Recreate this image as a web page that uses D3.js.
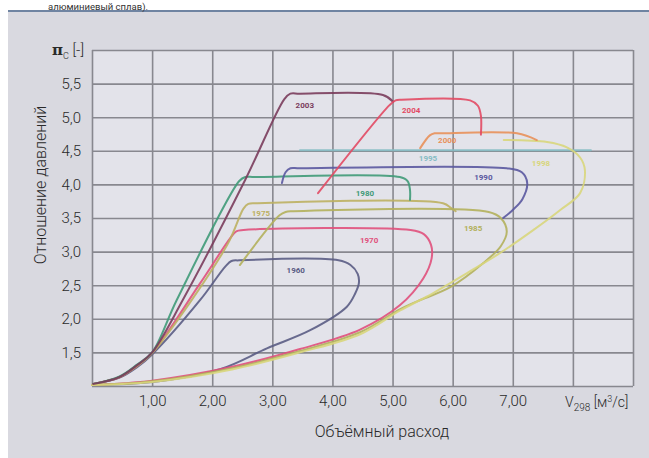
<!DOCTYPE html>
<html><head><meta charset="utf-8">
<script src="https://cdn.jsdelivr.net/npm/d3@7/dist/d3.min.js"></script>
<style>
html,body{margin:0;padding:0;background:#fff;}
text{font-family:Roboto,"Liberation Sans",sans-serif;}
</style></head>
<body>
<svg id="c" width="649" height="458"></svg>
<script>
// ---- data (x: volume flow m3/s, y: pressure ratio) ----
const xTicks = [1,2,3,4,5,6,7];
const yTicks = [1.5,2.0,2.5,3.0,3.5,4.0,4.5,5.0,5.5];
const years = ["1960","1970","1975","1980","1985","1990","1995","1998","2000","2003","2004"];

const s1960 = [[0.02,1.03],[0.45,1.12],[0.75,1.28],[1.0,1.47],[1.8,2.28],[2.22,2.78],[2.32,2.86],[2.45,2.87],[4.1,2.87],[4.3,2.8],[4.42,2.67],[4.44,2.53],[4.38,2.38],[4.24,2.18],[3.63,1.83],[2.91,1.56],[2.13,1.25],[1.0,1.06],[0.0,1.015]];
const s1970 = [[0.02,1.03],[0.45,1.13],[0.75,1.3],[1.0,1.49],[1.8,2.53],[2.3,3.2],[2.4,3.3],[2.52,3.32],[5.3,3.32],[5.52,3.26],[5.64,3.1],[5.65,2.9],[5.51,2.6],[5.12,2.2],[4.46,1.84],[3.46,1.55],[2.35,1.29],[1.0,1.08],[0.0,1.015]];
const s1975 = [[0.02,1.03],[0.45,1.13],[0.75,1.3],[1.0,1.49],[2.25,3.1],[2.52,3.64],[2.6,3.71],[2.75,3.72],[5.84,3.72],[5.97,3.65],[6.05,3.6]];
const s1980 = [[0.02,1.03],[0.45,1.14],[0.75,1.32],[1.0,1.5],[1.41,2.28],[2.45,4.05],[2.55,4.11],[2.7,4.11],[5.12,4.11],[5.25,4.05],[5.29,3.92],[5.29,3.77]];
const s1985 = [[2.46,2.8],[3.12,3.54],[3.22,3.59],[3.35,3.6],[6.6,3.59],[6.8,3.5],[6.9,3.3],[6.8,3.08],[6.51,2.83],[5.96,2.47],[5.41,2.26],[5.12,2.14],[4.46,1.8],[3.46,1.52],[2.35,1.27],[1.0,1.07],[0.0,1.015]];
const s1990 = [[3.16,4.02],[3.22,4.18],[3.3,4.24],[3.45,4.24],[6.9,4.24],[7.15,4.18],[7.24,4.02],[7.16,3.78],[7.0,3.62],[6.84,3.5]];
const s1995 = [[3.46,4.51],[8.3,4.51]];
const s1998 = [[6.85,4.66],[7.57,4.63],[7.9,4.55],[8.12,4.4],[8.2,4.21],[8.12,3.87],[7.79,3.62],[7.34,3.32],[6.79,2.98],[6.24,2.68],[5.67,2.38],[5.12,2.12],[4.46,1.77],[3.46,1.5],[2.35,1.25],[1.0,1.06],[0.0,1.015]];
const s2000 = [[5.46,4.54],[5.62,4.73],[5.7,4.76],[5.8,4.76],[7.07,4.76],[7.4,4.66]];
const s2003 = [[0.02,1.03],[0.45,1.13],[0.75,1.31],[1.0,1.5],[1.51,2.28],[2.55,4.07],[3.2,5.27],[3.3,5.35],[3.45,5.35],[4.84,5.33],[5.01,5.23]];
const s2004 = [[3.76,3.87],[4.95,5.18],[5.05,5.25],[5.15,5.26],[6.29,5.25],[6.42,5.17],[6.47,5.02],[6.47,4.74]];
// label anchors (data units) for each year
const labelX = [3.39,4.61,2.81,4.54,6.34,6.51,5.59,7.47,5.91,3.54,5.31];
const labelY = [2.73,3.17,3.57,3.87,3.35,4.11,4.39,4.32,4.66,5.18,5.11];

const seriesData = [s1960,s1970,s1975,s1980,s1985,s1990,s1995,s1998,s2000,s2003,s2004];
const colors = ["#5a5c84","#e0507c","#bdb062","#3f9a78","#b2b05c","#5a58a0","#86bcc4","#d8d67c","#e8905a","#7a3c5c","#e24a64"];

const svg = d3.select("#c");
// panel
svg.append("rect").attr("x",8).attr("y",11).attr("width",641).attr("height",447).attr("fill","#d9d9e0");
svg.append("line").attr("x1",8).attr("x2",649).attr("y1",11).attr("y2",11).attr("stroke","#6f84a2").attr("stroke-width",2);
svg.append("text").attr("x",48).attr("y",9.5).attr("font-size",9.5).attr("fill","#333").text("алюминиевый сплав).");

const x = d3.scaleLinear().domain([0,9]).range([92,633]);
const y = d3.scaleLinear().domain([1,6]).range([386,50]);

svg.append("rect").attr("x",x(0)).attr("y",y(6)).attr("width",x(9)-x(0)).attr("height",y(1)-y(6)).attr("fill","#e3e3ea");

const gridC = "#88888f";
// vertical grid
svg.append("g").attr("transform",`translate(0,${y(1)})`)
  .call(d3.axisBottom(x).tickValues([0,1,2,3,4,5,6,7,8,9]).tickSize(-(y(1)-y(6))).tickFormat(""))
  .call(g=>{g.select(".domain").remove(); g.selectAll("line").attr("stroke",gridC).attr("stroke-width",1.6);});
// horizontal grid
svg.append("g").attr("transform",`translate(${x(0)},0)`)
  .call(d3.axisLeft(y).tickValues([1,1.5,2,2.5,3,3.5,4,4.5,5,5.5,6]).tickSize(-(x(9)-x(0))).tickFormat(""))
  .call(g=>{g.select(".domain").remove(); g.selectAll("line").attr("stroke",gridC).attr("stroke-width",1.6);});

// tick labels
const fmtX = d3.format(".2f"), fmtY = d3.format(".1f");
svg.append("g").attr("transform",`translate(0,${y(1)+6})`)
  .call(d3.axisBottom(x).tickValues(xTicks).tickSize(0).tickFormat(d=>fmtX(d).replace(".",",")))
  .call(g=>{g.select(".domain").remove(); g.selectAll("text").attr("font-size",15).attr("fill","#2a2a2a").attr("font-family","Roboto, sans-serif").attr("font-weight",300);});
svg.append("g").attr("transform",`translate(${x(0)-8},0)`)
  .call(d3.axisLeft(y).tickValues(yTicks).tickSize(0).tickFormat(d=>fmtY(d).replace(".",",")))
  .call(g=>{g.select(".domain").remove(); g.selectAll("text").attr("font-size",15).attr("fill","#2a2a2a").attr("font-family","Roboto, sans-serif").attr("font-weight",300);});

// series
const line = d3.line().x(d=>x(d[0])).y(d=>y(d[1])).curve(d3.curveCatmullRom.alpha(0.5));
seriesData.forEach((s,i)=>{
  svg.append("path").attr("d",line(s)).attr("fill","none").attr("stroke",colors[i])
    .attr("stroke-width",2).attr("stroke-linejoin","round").attr("stroke-linecap","round").attr("opacity",0.9);
});
years.forEach((yr,i)=>{
  svg.append("text").attr("x",x(labelX[i])).attr("y",y(labelY[i])).attr("dy","0.35em")
    .attr("text-anchor","middle").attr("font-size",8).attr("font-weight",700).attr("fill",colors[i]).text(yr);
});

// axis titles
const pt = svg.append("text").attr("x",84).attr("y",55).attr("text-anchor","end").attr("font-size",15).attr("fill","#2a2a2a").attr("font-weight",300);
pt.append("tspan").text("π").attr("font-weight",700).attr("font-family","DejaVu Serif, serif");
pt.append("tspan").text("C").attr("font-size",9).attr("dy",4);
pt.append("tspan").text(" [-]").attr("dy",-4);

const vt = svg.append("text").attr("x",565).attr("y",407).attr("font-size",14).attr("fill","#2a2a2a").attr("font-weight",300);
vt.append("tspan").text("V");
vt.append("tspan").text("298").attr("font-size",10).attr("dy",4);
vt.append("tspan").text(" [м").attr("dy",-4);
vt.append("tspan").text("3").attr("font-size",9).attr("dy",-5);
vt.append("tspan").text("/с]").attr("dy",5);

svg.append("text").attr("x",382).attr("y",437).attr("text-anchor","middle").attr("font-size",16).attr("fill","#2a2a2a").attr("font-weight",300).text("Объёмный расход");
svg.append("text").attr("transform","translate(46,185) rotate(-90)").attr("text-anchor","middle").attr("font-size",16).attr("fill","#2a2a2a").attr("font-weight",300).text("Отношение давлений");
</script>
</body></html>
